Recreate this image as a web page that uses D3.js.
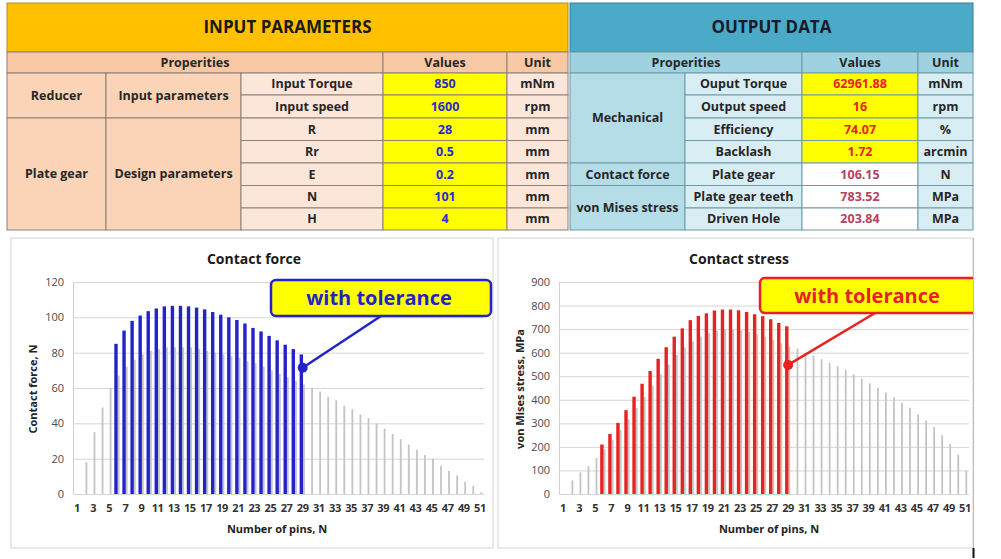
<!DOCTYPE html>
<html lang="en">
<head>
<meta charset="UTF-8">
<title>Plate gear reducer - input / output</title>
<style>
  body { margin: 0; background: #fff; }
  svg { display: block; font-family: "Open Sans", "DejaVu Sans", sans-serif; }
</style>
</head>
<body>
<svg width="1001" height="559"></svg>

<script src="https://d3js.org/d3.v7.min.js"></script>
<script>

// ---- table data ----
var inputProps  = ["Input Torque", "Input speed", "R", "Rr", "E", "N", "H"];
var inputValues = ["850", "1600", "28", "0.5", "0.2", "101", "4"];
var inputUnits  = ["mNm", "rpm", "mm", "mm", "mm", "mm", "mm"];
var inputGroups = [["Reducer", "Input parameters", 2], ["Plate gear", "Design parameters", 5]];

var outputProps  = ["Ouput Torque", "Output speed", "Efficiency", "Backlash", "Plate gear", "Plate gear teeth", "Driven Hole"];
var outputValues = ["62961.88", "16", "74.07", "1.72", "106.15", "783.52", "203.84"];
var outputUnits  = ["mNm", "rpm", "%", "arcmin", "N", "MPa", "MPa"];
var outputGroups = [["Mechanical", 4], ["Contact force", 1], ["von Mises stress", 2]];

// ---- chart data ----
var pins = [1,2,3,4,5,6,7,8,9,10,11,12,13,14,15,16,17,18,19,20,21,22,23,24,25,26,
            27,28,29,30,31,32,33,34,35,36,37,38,39,40,41,42,43,44,45,46,47,48,49,50,51];
var pinLabels = [1,3,5,7,9,11,13,15,17,19,21,23,25,27,29,31,33,35,37,39,41,43,45,47,49,51];
var tolPins = [6,7,8,9,10,11,12,13,14,15,16,17,18,19,20,21,22,23,24,25,26,27,28,29];

var forceBase = [0,18,35,49,60,67,72,76,79,81,82,83,83,83,83,82,81,80,79,78,77,75,74,72,70,68,
                 66,64,62,60,58,55,53,50,48,45,43,40,37,34,31,28,25,22,20,16,13,10.5,7,4.5,1];
var forceTol  = [85,92.5,98,101,103.5,105,106.2,106.5,106.5,106.2,105.5,104.5,103,101.5,100,
                 98.5,96.5,94,92,89.5,87,84.5,82,79];
var forceTicks = [0,20,40,60,80,100,120];

var stressBase = [0,58,92,118,153,190,230,272,318,365,412,460,508,550,590,622,648,668,683,693,698,
                  698,695,688,678,667,655,640,625,618,593,586,572,557,543,527,508,490,470,451,431,
                  411,387,366,338,312,284,250,213,167,99];
var stressTol  = [210,255,302,356,413,468,522,574,623,668,703,738,756,767,779,783,783,780,773,
                  763,755,742,726,712];
var stressTicks = [0,100,200,300,400,500,600,700,800,900];

var svg = d3.select("svg");

// ---------- tables ----------
var rowY = [73, 95, 118, 140.5, 163, 185.5, 208, 230];

function cell(x0, x1, y0, y1, fill, label, color, size, stroke) {
    svg.append("rect")
        .attr("x", x0).attr("y", y0)
        .attr("width", x1 - x0).attr("height", y1 - y0)
        .attr("fill", fill)
        .attr("stroke", stroke || "#8c8079")
        .attr("stroke-width", 1);
    if (label != null) {
        svg.append("text")
            .attr("x", (x0 + x1) / 2).attr("y", (y0 + y1) / 2)
            .attr("dy", "0.35em")
            .attr("text-anchor", "middle")
            .attr("font-weight", "bold")
            .attr("font-size", size || 12.5)
            .attr("fill", color || "#262626")
            .text(label);
    }
}

// input parameters
var lx = [7, 106, 241, 383, 507, 568];
cell(lx[0], lx[5], 3, 52, "#ffc000", "INPUT PARAMETERS", "#1a1a1a", 17, "#b08a30");
cell(lx[0], lx[3], 52, rowY[0], "#f8c8a4", "Properities");
cell(lx[3], lx[4], 52, rowY[0], "#f8c8a4", "Values");
cell(lx[4], lx[5], 52, rowY[0], "#f8c8a4", "Unit");

var r = 0;
inputGroups.forEach(function(g) {
    cell(lx[0], lx[1], rowY[r], rowY[r + g[2]], "#fbd3b6", g[0]);
    cell(lx[1], lx[2], rowY[r], rowY[r + g[2]], "#fbd3b6", g[1]);
    r += g[2];
});
inputProps.forEach(function(p, i) {
    cell(lx[2], lx[3], rowY[i], rowY[i + 1], "#fce6da", p);
    cell(lx[3], lx[4], rowY[i], rowY[i + 1], "#ffff00", inputValues[i], "#2a2ad2");
    cell(lx[4], lx[5], rowY[i], rowY[i + 1], "#fce6da", inputUnits[i]);
});

// output data
var rx = [570, 685, 802, 918, 973];
cell(rx[0], rx[4], 3, 52, "#4aaac8", "OUTPUT DATA", "#1a1a2a", 17, "#3a7f96");
cell(rx[0], rx[2], 52, rowY[0], "#9fd2e0", "Properities", null, null, "#6f9aa6");
cell(rx[2], rx[3], 52, rowY[0], "#9fd2e0", "Values", null, null, "#6f9aa6");
cell(rx[3], rx[4], 52, rowY[0], "#9fd2e0", "Unit", null, null, "#6f9aa6");

r = 0;
outputGroups.forEach(function(g) {
    cell(rx[0], rx[1], rowY[r], rowY[r + g[1]], "#b4dde8", g[0], null, null, "#6f9aa6");
    r += g[1];
});
outputProps.forEach(function(p, i) {
    var top4 = i < 4;
    cell(rx[1], rx[2], rowY[i], rowY[i + 1], "#d9eef4", p, null, null, "#6f9aa6");
    cell(rx[2], rx[3], rowY[i], rowY[i + 1], top4 ? "#ffff00" : "#ffffff", outputValues[i],
         top4 ? "#e8231c" : "#b5425e", null, "#6f9aa6");
    cell(rx[3], rx[4], rowY[i], rowY[i + 1], "#d9eef4", outputUnits[i], null, null, "#6f9aa6");
});

// ---------- charts ----------
function drawChart(c) {
    var g = svg.append("g");

    g.append("rect")
        .attr("x", c.panel[0]).attr("y", 238)
        .attr("width", c.panel[1] - c.panel[0]).attr("height", 310)
        .attr("fill", "#fff").attr("stroke", "#d4d4d4");

    var x = d3.scaleBand().domain(pins).range(c.xr);
    var sub = d3.scaleBand().domain(["tol", "base"])
        .range([x.bandwidth() * 0.17, x.bandwidth() * 0.83]);
    var y = d3.scaleLinear().domain([0, c.ticks[c.ticks.length - 1]]).range([494, 282]);

    var yAxis = g.append("g")
        .attr("transform", "translate(" + c.xr[0] + ",0)")
        .call(d3.axisLeft(y).tickValues(c.ticks)
            .tickSizeInner(-(c.xr[1] - c.xr[0])).tickSizeOuter(0).tickPadding(9));
    yAxis.select(".domain").attr("stroke", "#d0d0d0");
    yAxis.selectAll(".tick line").attr("stroke", "#d6d6d6");
    yAxis.selectAll("text").attr("font-size", 11).attr("fill", "#4a4a4a")
        .attr("font-family", "Open Sans, sans-serif");

    var xAxis = g.append("g")
        .attr("transform", "translate(0,494)")
        .call(d3.axisBottom(x).tickValues(pinLabels).tickSize(0).tickPadding(10));
    xAxis.select(".domain").remove();
    xAxis.selectAll("text").attr("font-size", 11).attr("fill", "#333")
        .attr("font-weight", "bold").attr("font-family", "Open Sans, sans-serif")
        .attr("letter-spacing", -0.4);

    // base series (grey)
    g.selectAll(".base").data(c.base).enter().append("rect")
        .attr("x", function(d, i) { return x(pins[i]) + sub("base") + sub.bandwidth() / 2 - 0.9; })
        .attr("width", 1.8)
        .attr("y", function(d) { return y(d); })
        .attr("height", function(d) { return 494 - y(d); })
        .attr("fill", "#c4c4c4");

    // with tolerance
    g.selectAll(".tol").data(c.tol).enter().append("rect")
        .attr("x", function(d, i) { return x(tolPins[i]) + sub("tol") + sub.bandwidth() / 2 - 1.7; })
        .attr("width", 3.4)
        .attr("y", function(d) { return y(d); })
        .attr("height", function(d) { return 494 - y(d); })
        .attr("fill", c.color);

    g.append("text").attr("x", c.titleX).attr("y", 264)
        .attr("text-anchor", "middle").attr("font-weight", "bold")
        .attr("font-size", 14).attr("fill", "#1a1a1a").text(c.title);

    g.append("text").attr("x", c.xTitleX).attr("y", 533)
        .attr("text-anchor", "middle").attr("font-weight", "bold")
        .attr("font-size", 11).attr("fill", "#222").text("Number of pins, N");

    g.append("text")
        .attr("transform", "translate(" + c.yTitleX + ",389) rotate(-90)")
        .attr("text-anchor", "middle").attr("font-weight", "bold")
        .attr("font-size", 11).attr("fill", "#222").text(c.yTitle);

    // callout
    var px = x(c.note[0]) + x.bandwidth() / 2, py = y(c.note[1]);
    var b = c.box;
    var cg = g.append("g");
    if (c.clip) {
        svg.append("clipPath").attr("id", "clipR")
            .append("rect").attr("x", 0).attr("y", 0).attr("width", c.clip).attr("height", 559);
        cg.attr("clip-path", "url(#clipR)");
    }
    cg.append("line")
        .attr("x1", (b[0] + b[2]) / 2 - (c.clip ? 0 : 0)).attr("y1", b[3])
        .attr("x2", px).attr("y2", py)
        .attr("stroke", c.color).attr("stroke-width", 2.5);
    cg.append("circle").attr("cx", px).attr("cy", py).attr("r", 5).attr("fill", c.color);
    cg.append("rect")
        .attr("x", b[0]).attr("y", b[1])
        .attr("width", b[2] - b[0]).attr("height", b[3] - b[1])
        .attr("rx", 5)
        .attr("fill", "#ffff00").attr("stroke", c.color).attr("stroke-width", 2.5);
    cg.append("text")
        .attr("x", c.noteX).attr("y", (b[1] + b[3]) / 2).attr("dy", "0.35em")
        .attr("text-anchor", "middle").attr("font-weight", "bold")
        .attr("font-size", 20).attr("fill", c.color).text("with tolerance");
}

drawChart({
    panel: [11, 493], xr: [73, 484], ticks: forceTicks,
    base: forceBase, tol: forceTol, color: "#2323c8",
    title: "Contact force", titleX: 254, xTitleX: 277,
    yTitle: "Contact force, N", yTitleX: 37,
    note: [29, 71.5], box: [271, 280, 491, 316], noteX: 379
});

drawChart({
    panel: [498, 973], xr: [559, 969], ticks: stressTicks,
    base: stressBase, tol: stressTol, color: "#e62222",
    title: "Contact stress", titleX: 739, xTitleX: 769,
    yTitle: "von Mises stress, MPa", yTitleX: 524,
    note: [29, 548], box: [760, 278, 990, 313], noteX: 867, clip: 973
});

// right edge of the sheet
svg.append("line").attr("x1", 973.5).attr("x2", 973.5).attr("y1", 238).attr("y2", 548)
    .attr("stroke", "#bdbdbd");
svg.append("line").attr("x1", 973.5).attr("x2", 973.5).attr("y1", 548).attr("y2", 558)
    .attr("stroke", "#111").attr("stroke-width", 2);

</script>
</body>
</html>
